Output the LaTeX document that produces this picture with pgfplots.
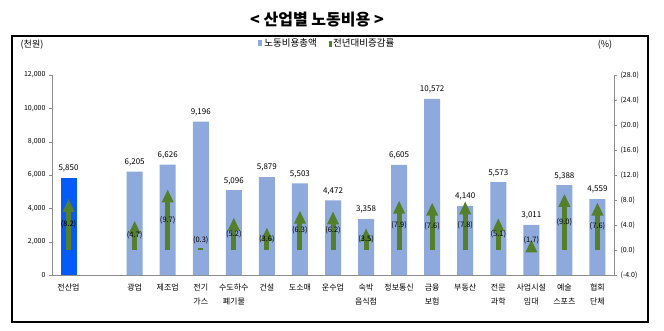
\documentclass[border=0pt]{standalone}
\usepackage{pgfplots}
\pgfplotsset{compat=1.18}
\usepackage{pgfplotstable}
\usepackage{fontspec}
\setmainfont{Noto Sans CJK KR}
\usetikzlibrary{arrows.meta}
\definecolor{barblue}{RGB}{142,169,219}
\definecolor{allblue}{RGB}{5,90,250}
\definecolor{arrowgreen}{RGB}{84,128,44}
\definecolor{axgray}{RGB}{140,140,140}

\pgfplotstableread{
x val
2 6205
3 6626
4 9196
5 5096
6 5879
7 5503
8 4472
9 3358
10 6605
11 10572
12 4140
13 5573
14 3011
15 5388
16 4559
}\bars
\pgfplotstableread{
x val
0 5850
}\allbar
% growth rates (%) ; base = 0, ly = label position
\pgfplotstableread{
x base v ly
0 0 8.2 4.1
2 0 4.7 2.35
3 0 9.7 4.85
5 0 5.2 2.6
6 0 3.6 1.8
7 0 6.3 3.15
8 0 6.2 3.1
9 0 3.5 1.75
10 0 7.9 3.95
11 0 7.6 3.8
12 0 7.8 3.9
13 0 5.1 2.55
14 0 1.7 1.6
15 0 9.0 4.5
16 0 7.6 3.8
}\rates
\pgfplotstableread{
x base v ly
4 0 0.3 1.6
}\ratesmall

\begin{document}
\begin{tikzpicture}[x=1pt,y=1pt]
\useasboundingbox (0,0) rectangle (664,330);
\draw[line width=1.5pt] (12,8) rectangle (648,294);
\node[font=\bfseries\fontsize{16}{18}\selectfont] at (317,310) {< 산업별 노동비용 >};
\node[font=\fontsize{9}{10}\selectfont] at (32,285) {(천원)};
\node[font=\fontsize{9}{10}\selectfont] at (605,285) {(\%)};

\begin{axis}[
  at={(52pt,55pt)}, anchor=south west, scale only axis,
  width=562pt, height=200pt,
  xmin=-0.5, xmax=16.5, ymin=0, ymax=12000,
  axis y line*=left, axis x line*=bottom,
  axis line style={axgray},
  ytick={0,2000,...,12000},
  scaled y ticks=false,
  xtick={0,2,3,4,5,6,7,8,9,10,11,12,13,14,15,16},
  xticklabels={전산업,광업,제조업,전기\\가스,수도하수\\폐기물,건설,도소매,운수업,숙박\\음식점,정보통신,금융\\보험,부동산,전문\\과학,사업시설\\임대,예술\\스포츠,협회\\단체},
  xticklabel style={align=center, font=\fontsize{8}{14}\selectfont, anchor=north, yshift=-2pt},
  x tick style={draw=none},
  y tick style={axgray},
  tick align=outside, major tick length=3pt,
  yticklabel style={font=\fontsize{7}{8}\selectfont},
  /pgf/number format/.cd, 1000 sep={,}, assume math mode=true, /pgfplots/.cd,
  ybar, bar width=16pt, bar shift=0pt,
  nodes near coords,
  nodes near coords style={font=\fontsize{8}{9}\selectfont, black, yshift=2pt},
  legend style={at={(0.49,1)}, anchor=center, yshift=32pt, draw=none, fill=none,
    font=\fontsize{9.5}{10}\selectfont, legend columns=2,
    /tikz/every even column/.style={column sep=10pt}},
]
\addplot[fill=barblue, draw=none,
  legend image code/.code={\fill[barblue] (0pt,-3pt) rectangle (4pt,3pt);}]
  table[x=x,y=val] {\bars};
\addlegendentry{노동비용총액}
\addplot[fill=allblue, draw=none, forget plot] table[x=x,y=val] {\allbar};
\addlegendimage{legend image code/.code={\fill[arrowgreen] (1pt,-3pt) rectangle (3pt,2pt);}}
\addlegendentry{전년대비증감률}
\end{axis}

\begin{axis}[
  at={(52pt,55pt)}, anchor=south west, scale only axis,
  width=562pt, height=200pt,
  xmin=-0.5, xmax=16.5, ymin=-4, ymax=28,
  axis y line*=right, axis x line=none,
  axis line style={axgray},
  ytick={-4,0,...,28},
  yticklabel={(\pgfmathprintnumber[fixed,fixed zerofill,precision=1]{\tick})},
  yticklabel style={font=\fontsize{7}{8}\selectfont},
  y tick style={axgray},
  tick align=outside, major tick length=3pt,
  /pgf/number format/assume math mode=true,
]
\addplot[arrowgreen, line width=5pt, no markers,
  quiver={u=0, v=\thisrow{v}},
  -{Triangle[width=11pt,length=13pt]}]
  table[x=x,y=base] {\rates};
\addplot[arrowgreen, line width=5pt, no markers,
  quiver={u=0, v=\thisrow{v}}]
  table[x=x,y=base] {\ratesmall};
\addplot[only marks, mark=none, point meta=explicit,
  nodes near coords={(\pgfmathprintnumber[fixed,fixed zerofill,precision=1]{\pgfplotspointmeta})},
  nodes near coords align=center,
  nodes near coords style={font=\fontsize{7.5}{9}\selectfont, black}]
  table[x=x,y=ly,meta=v] {\rates};
\addplot[only marks, mark=none, point meta=explicit,
  nodes near coords={(\pgfmathprintnumber[fixed,fixed zerofill,precision=1]{\pgfplotspointmeta})},
  nodes near coords align=center,
  nodes near coords style={font=\fontsize{7.5}{9}\selectfont, black}]
  table[x=x,y=ly,meta=v] {\ratesmall};
\end{axis}
\end{tikzpicture}
\end{document}
